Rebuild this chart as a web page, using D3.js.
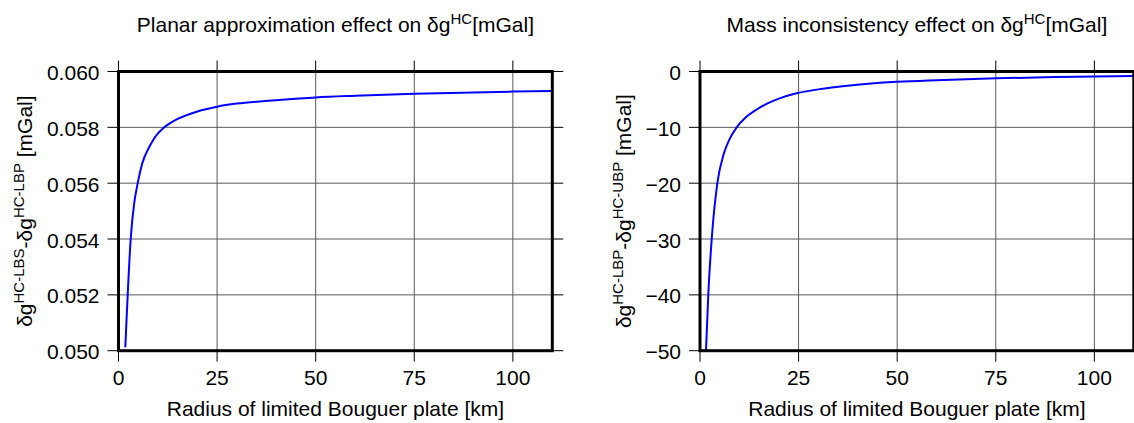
<!DOCTYPE html>
<html>
<head>
<meta charset="utf-8">
<script src="https://cdn.jsdelivr.net/npm/d3@7"></script>
<style>
  html, body { margin: 0; padding: 0; background: #fff; }
  svg { display: block; font-family: "Liberation Sans", Arial, Helvetica, sans-serif; }
</style>
</head>
<body>
<svg id="chart" width="1134" height="423"></svg>
<script>
// Radius of the limited Bouguer plate [km]
const radiusPlanar = [1.72, 2.33, 3.09, 4, 4.87, 6, 8, 8.8, 10, 11.4, 13, 15, 20, 25, 30, 40, 50, 60, 75, 90, 100, 110];
// Planar approximation effect [mGal]
const planarEffect = [0.05012, 0.0520, 0.0540, 0.0553, 0.0560, 0.0567, 0.05735, 0.05755, 0.05778, 0.05798,
                      0.05814, 0.05830, 0.05857, 0.05874, 0.05885, 0.05897, 0.05907, 0.05913, 0.05920,
                      0.05925, 0.05928, 0.05930];

const radiusMass = [1.52, 2.1, 2.97, 4.4, 6, 7.5, 9.3, 11.5, 14.4, 17, 20, 24.5, 30, 38, 50, 60, 75, 90, 100, 110];
// Mass inconsistency effect [mGal]
const massEffect = [-50, -40, -30, -20, -14.8, -12.1, -10, -8.3, -6.8, -5.75, -4.85, -3.9, -3.2,
                    -2.5, -1.85, -1.55, -1.22, -1.0, -0.9, -0.8];

const xTicks = [0, 25, 50, 75, 100];
const yTicksPlanar = [0.050, 0.052, 0.054, 0.056, 0.058, 0.060];
const yTicksMass = [-50, -40, -30, -20, -10, 0];

const xTitle = "Radius of limited Bouguer plate [km]";

const panels = [
  {
    left: 118.5, x: radiusPlanar, y: planarEffect, yDomain: [0.050, 0.060],
    yTicks: yTicksPlanar, yFormat: d3.format(".3f"),
    title: [["Planar approximation effect on δg", false], ["HC", true], ["[mGal]", false]],
    ylabel: [["δg", false], ["HC-LBS", true], ["-δg", false], ["HC-LBP", true], [" [mGal]", false]],
    ylabelX: 32
  },
  {
    left: 700, x: radiusMass, y: massEffect, yDomain: [-50, 0],
    yTicks: yTicksMass, yFormat: d3.format("d"),
    title: [["Mass inconsistency effect on δg", false], ["HC", true], ["[mGal]", false]],
    ylabel: [["δg", false], ["HC-LBP", true], ["-δg", false], ["HC-UBP", true], [" [mGal]", false]],
    ylabelX: 631
  }
];

const svg = d3.select("#chart");
const plotTop = 71.5, plotBottom = 350.7, plotW = 433.8;
const tickOut = 11;
const fontSize = 21, supSize = 15;

// Writes text made of normal runs and superscript runs
function richText(sel, parts, size, sSize) {
  const shift = size * 0.36;
  parts.forEach(([txt, sup], i) => {
    const t = sel.append("tspan").text(txt);
    if (sup) {
      t.attr("font-size", sSize).attr("dy", -shift);
    } else {
      t.attr("font-size", size);
      if (i > 0 && parts[i - 1][1]) t.attr("dy", shift);
    }
  });
}

panels.forEach((p, idx) => {
  const x = d3.scaleLinear().domain([0, 110]).range([p.left, p.left + plotW]);
  const y = d3.scaleLinear().domain(p.yDomain).range([plotBottom, plotTop]);
  const g = svg.append("g");

  const clipId = "clip" + idx;
  svg.append("clipPath").attr("id", clipId)
    .append("rect").attr("x", x(0)).attr("y", plotTop).attr("width", plotW).attr("height", plotBottom - plotTop);

  // grid lines inside the frame
  g.selectAll(".gx").data(xTicks).join("line")
    .attr("x1", d => x(d)).attr("x2", d => x(d))
    .attr("y1", plotTop).attr("y2", plotBottom)
    .attr("stroke", "#5a5a5a").attr("stroke-width", 1);
  g.selectAll(".gy").data(p.yTicks).join("line")
    .attr("x1", x(0)).attr("x2", x(110))
    .attr("y1", d => y(d)).attr("y2", d => y(d))
    .attr("stroke", "#5a5a5a").attr("stroke-width", 1);

  // tick marks on all four sides, outside the frame
  const tk = g.append("g").attr("stroke", "#000").attr("stroke-width", 1);
  xTicks.forEach(d => {
    tk.append("line").attr("x1", x(d)).attr("x2", x(d)).attr("y1", plotTop - tickOut).attr("y2", plotTop);
    tk.append("line").attr("x1", x(d)).attr("x2", x(d)).attr("y1", plotBottom).attr("y2", plotBottom + tickOut);
  });
  p.yTicks.forEach(d => {
    tk.append("line").attr("x1", x(0) - tickOut).attr("x2", x(0)).attr("y1", y(d)).attr("y2", y(d));
    tk.append("line").attr("x1", x(110)).attr("x2", x(110) + tickOut).attr("y1", y(d)).attr("y2", y(d));
  });

  // data curve
  const line = d3.line().x((d, i) => x(p.x[i])).y(d => y(d)).curve(d3.curveMonotoneX);
  g.append("path").datum(p.y)
    .attr("clip-path", `url(#${clipId})`)
    .attr("d", line)
    .attr("fill", "none").attr("stroke", "#0000ff").attr("stroke-width", 2);

  // frame
  g.append("rect").attr("x", x(0)).attr("y", plotTop).attr("width", plotW).attr("height", plotBottom - plotTop)
    .attr("fill", "none").attr("stroke", "#000").attr("stroke-width", 3);

  // tick labels
  g.selectAll(".xl").data(xTicks).join("text")
    .attr("x", d => x(d)).attr("y", 385)
    .attr("text-anchor", "middle").attr("font-size", fontSize).attr("fill", "#000")
    .text(d => d);
  g.selectAll(".yl").data(p.yTicks).join("text")
    .attr("x", x(0) - 19).attr("y", d => y(d) + 8.5)
    .attr("text-anchor", "end").attr("font-size", fontSize).attr("fill", "#000")
    .text(d => p.yFormat(d));

  // x axis title
  g.append("text").attr("x", x(55)).attr("y", 416)
    .attr("text-anchor", "middle").attr("font-size", fontSize).attr("fill", "#000")
    .text(xTitle);

  // panel title
  const t = g.append("text").attr("x", x(55)).attr("y", 31.5)
    .attr("text-anchor", "middle").attr("fill", "#000");
  richText(t, p.title, fontSize, supSize);

  // y axis title
  const yl = g.append("text")
    .attr("transform", `translate(${p.ylabelX},${(plotTop + plotBottom) / 2}) rotate(-90)`)
    .attr("text-anchor", "middle").attr("fill", "#000");
  richText(yl, p.ylabel, fontSize, supSize);
});
</script>
</body>
</html>
